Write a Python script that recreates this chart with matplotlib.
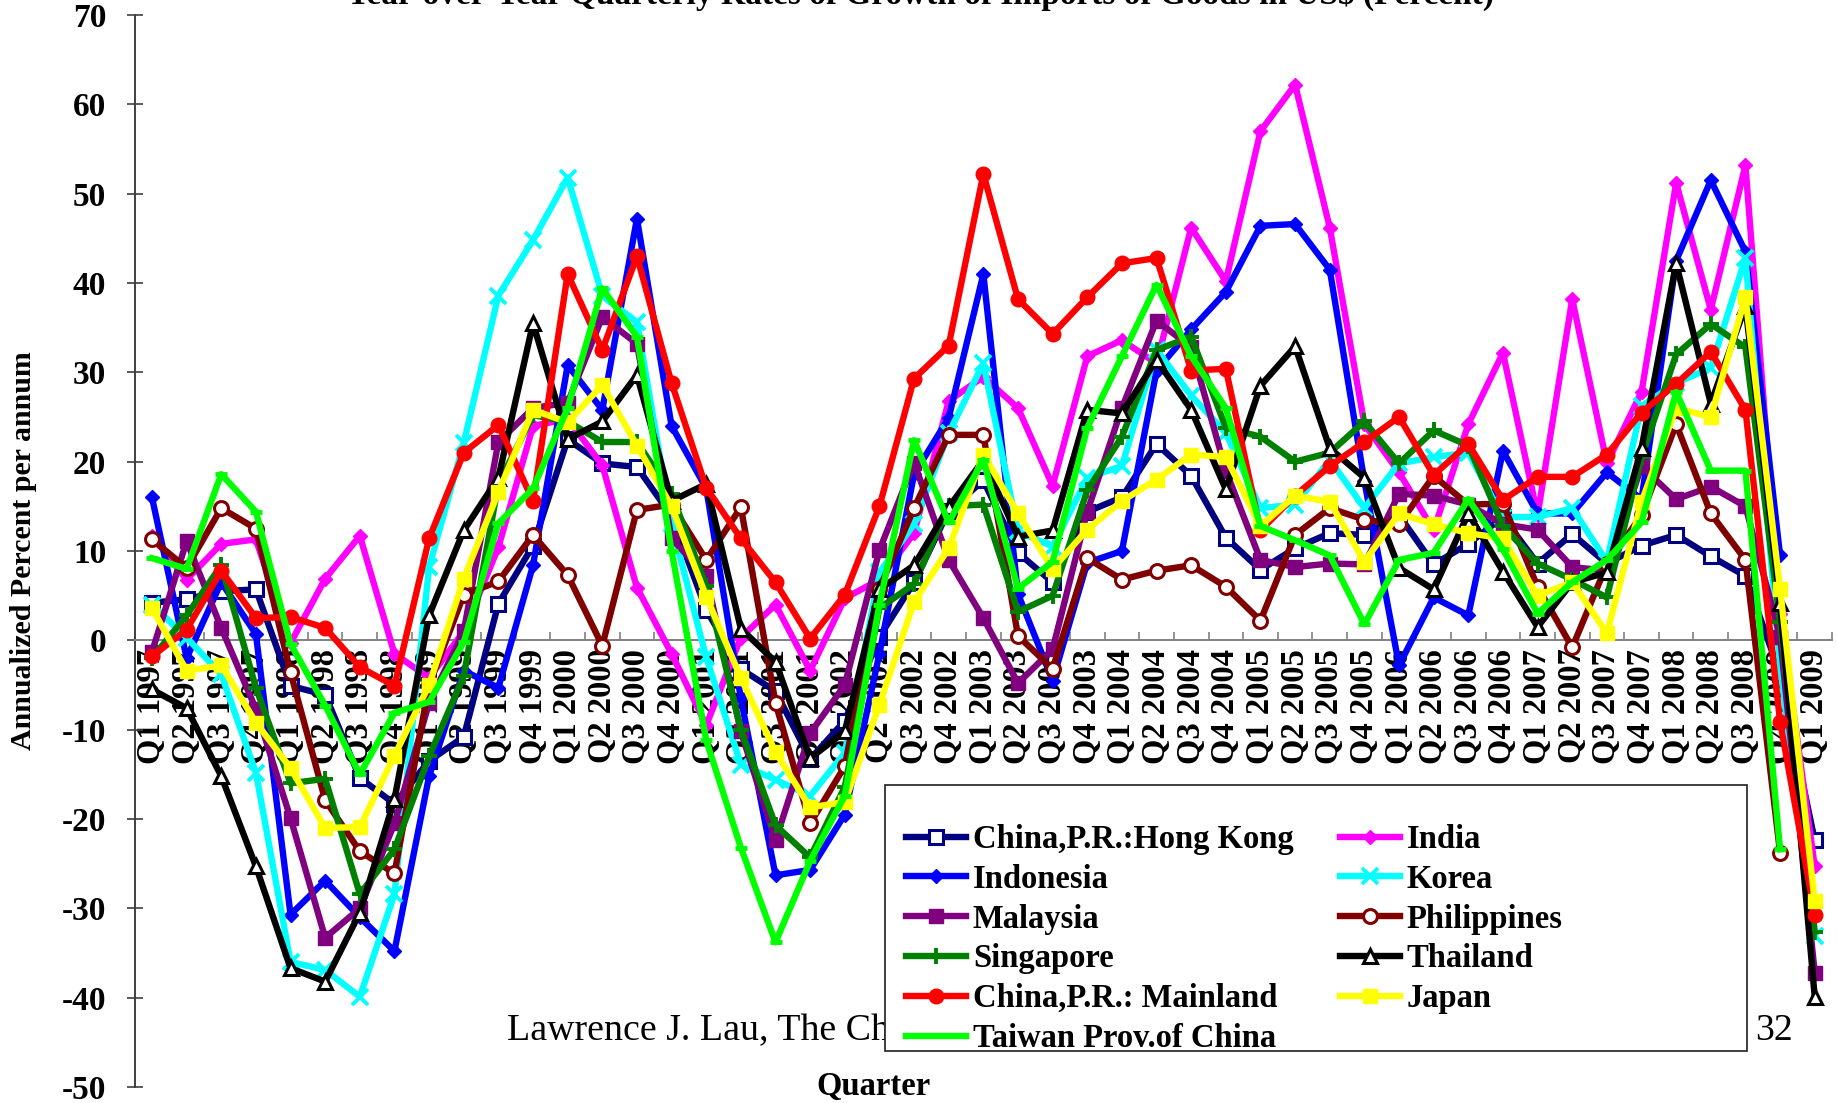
import numpy as np
import matplotlib
matplotlib.use("Agg")
import matplotlib.pyplot as plt
from matplotlib.patches import Rectangle

nan = np.nan

years = list(range(1997, 2009))
quarter_names = ["Q1", "Q2", "Q3", "Q4"]
quarters = [f"{q} {y}" for y in years for q in quarter_names] + ["Q1 2009"]

hong_kong = [4.2, 4.6, 5.5, 5.7, -5.1, -6.1, -15.4, -18.3, -13.5, -10.8, 4.1, 10.6,
             22.5, 19.8, 19.4, 13.9, 3.4, -3.2, -5.7, -13.3, -9.0, 0.4, 6.5, 14.5,
             17.9, 9.8, 6.5, 14.4, 16.0, 22.0, 18.4, 11.5, 7.9, 10.3, 12.0, 11.8,
             14.0, 8.5, 10.8, 13.8, 8.6, 11.9, 8.6, 10.6, 11.8, 9.4, 7.2, -3.8, -22.4]
india = [11.7, 6.8, 10.8, 11.3, -0.3, 6.9, 11.7, -1.5, -4.2, 1.0, 10.4, 24.0,
         24.8, 19.6, 5.9, -1.5, -9.5, 0.3, 4.0, -3.4, 4.7, 6.8, 12.0, 26.8,
         29.5, 26.0, 17.3, 31.8, 33.6, 31.0, 46.2, 40.2, 57.0, 62.2, 46.2, 24.2,
         18.8, 12.3, 24.2, 32.2, 14.0, 38.2, 19.8, 27.8, 51.2, 37.0, 53.2, 3.0, -25.3]
indonesia = [16.0, -2.0, 6.5, 0.7, -30.7, -26.9, -31.0, -34.8, -15.2, -3.4, -5.3, 8.4,
             30.8, 25.8, 47.2, 24.0, 17.0, -6.5, -26.3, -25.7, -19.5, -1.5, 18.6, 24.9,
             41.0, 5.2, -4.5, 8.7, 10.0, 30.2, 34.8, 39.0, 46.4, 46.6, 41.5, 17.8,
             -2.8, 4.8, 2.8, 21.2, 14.2, 14.2, 18.8, 15.8, 42.5, 51.5, 43.5, 9.5, nan]
korea = [4.0, 0.3, -3.8, -14.8, -36.0, -36.9, -39.9, -28.4, 8.2, 22.1, 38.6, 44.8,
         51.8, 38.6, 35.6, 13.0, -1.9, -13.9, -15.6, -17.4, -12.6, 7.6, 13.0, 23.2,
         31.0, 12.2, 10.5, 18.2, 19.5, 32.5, 27.4, 23.2, 14.8, 15.2, 20.2, 14.8,
         19.8, 20.5, 21.0, 13.8, 13.8, 14.8, 8.8, 26.2, 28.8, 30.5, 42.8, -3.0, -33.1]
malaysia = [-1.3, 11.1, 1.4, -7.7, -19.9, -33.3, -30.0, -20.5, -7.0, 1.0, 22.2, 26.0,
            26.6, 36.2, 33.2, 11.4, 7.2, -10.2, -22.4, -10.4, -5.0, 10.1, 19.9, 9.0,
            2.5, -4.8, -1.0, 14.4, 26.0, 35.8, 32.8, 19.0, 9.0, 8.2, 8.6, 8.5,
            16.4, 16.2, 15.2, 13.0, 12.4, 8.2, 7.8, 19.5, 15.8, 17.2, 15.0, 0.4, -37.2]
philippines = [11.3, 8.1, 14.8, 12.5, -3.6, -17.9, -23.6, -26.1, -5.0, 5.1, 6.6, 11.8,
               7.3, -0.6, 14.6, 15.2, 9.0, 14.9, -7.0, -20.5, -14.1, 5.8, 14.8, 23.0,
               23.0, 0.5, -3.2, 9.2, 6.8, 7.8, 8.4, 6.0, 2.2, 11.8, 14.8, 13.5,
               13.0, 18.4, 15.2, 15.3, 6.0, -0.8, 8.5, 14.0, 24.2, 14.2, 9.0, -23.8, nan]
singapore = [-2.0, 2.8, 8.4, -5.3, -16.0, -15.5, -28.4, -23.4, -13.0, -4.0, 17.5, 25.2,
             24.5, 22.2, 22.2, 16.4, 6.1, -10.0, -20.7, -24.3, -16.4, 3.6, 6.3, 15.0,
             15.2, 3.2, 5.0, 16.8, 22.8, 32.5, 34.0, 23.8, 22.8, 20.0, 21.0, 24.5,
             19.8, 23.5, 21.8, 12.8, 8.6, 6.8, 4.8, 20.5, 32.0, 35.4, 32.8, 2.0, -32.6]
thailand = [-5.5, -7.6, -15.2, -25.3, -36.7, -38.2, -30.5, -17.8, 2.8, 12.3, 18.2, 35.5,
            22.5, 24.5, 29.7, 15.6, 17.5, 1.3, -2.4, -13.2, -10.2, 5.7, 8.4, 14.9,
            20.2, 11.6, 12.3, 25.8, 25.4, 31.4, 25.8, 16.9, 28.5, 32.9, 21.5, 18.2,
            8.1, 5.7, 14.2, 7.7, 1.5, 6.5, 7.6, 21.5, 42.2, 26.5, 37.4, 4.2, -39.9]
mainland = [-1.8, 1.2, 7.8, 2.5, 2.6, 1.4, -3.0, -5.1, 11.4, 21.0, 24.1, 15.6,
            41.0, 32.5, 43.0, 28.8, 17.1, 11.4, 6.5, 0.2, 5.1, 15.0, 29.3, 33.0,
            52.2, 38.2, 34.3, 38.4, 42.2, 42.8, 30.2, 30.4, 12.3, 16.2, 19.5, 22.2,
            25.0, 18.5, 22.0, 15.7, 18.3, 18.3, 20.8, 25.5, 28.7, 32.3, 25.8, -9.1, -30.7]
japan = [3.6, -3.4, -2.8, -9.2, -14.3, -21.0, -20.9, -12.9, -5.0, 6.9, 16.6, 25.8,
         24.4, 28.6, 21.8, 15.0, 4.9, -4.2, -12.5, -18.7, -18.1, -7.2, 4.3, 10.3,
         20.8, 14.2, 8.0, 12.4, 15.6, 18.0, 20.8, 20.5, 12.8, 16.2, 15.5, 8.8,
         14.2, 13.0, 12.0, 11.4, 5.0, 6.5, 0.8, 15.5, 26.0, 25.0, 38.4, 5.8, -29.2]
taiwan = [9.2, 8.0, 18.6, 14.4, -0.4, -7.3, -15.0, -8.1, -6.9, -0.2, 13.1, 17.0,
          26.0, 39.4, 34.0, 10.0, -11.2, -23.2, -33.8, -24.7, -17.4, 4.0, 22.4, 13.2,
          20.2, 5.8, 8.8, 23.8, 31.8, 39.8, 31.8, 26.0, 12.8, 11.2, 9.5, 1.8,
          9.0, 9.8, 15.8, 10.2, 3.0, 6.5, 9.0, 13.2, 27.8, 19.0, 19.0, -23.4, nan]

SERIF = ["Liberation Serif", "DejaVu Serif"]

# (label, values, line colour, marker style), in drawing order
series = [
    ("China,P.R.:Hong Kong", hong_kong, "#000080",
     dict(marker="s", ms=10, mfc="white", mec="#000080", mew=2.2)),
    ("India", india, "#FF00FF",
     dict(marker="D", ms=7, mfc="#FF00FF", mec="#FF00FF")),
    ("Indonesia", indonesia, "#0000FF",
     dict(marker="D", ms=7, mfc="#0000FF", mec="#0000FF")),
    ("Korea", korea, "#00FFFF",
     dict(marker="x", ms=11, mec="#00FFFF", mew=2.8)),
    ("Malaysia", malaysia, "#800080",
     dict(marker="s", ms=10.5, mfc="#800080", mec="#800080")),
    ("Philippines", philippines, "#800000",
     dict(marker="o", ms=10, mfc="white", mec="#800000", mew=2.2)),
    ("Singapore", singapore, "#008000",
     dict(marker="+", ms=12, mec="#008000", mew=2.8)),
    ("Thailand", thailand, "#000000",
     dict(marker="^", ms=10.5, mfc="white", mec="#000000", mew=2.2)),
    ("China,P.R.: Mainland", mainland, "#FF0000",
     dict(marker="o", ms=10.5, mfc="#FF0000", mec="#FF0000")),
    ("Japan", japan, "#FFFF00",
     dict(marker="s", ms=10.5, mfc="#FFFF00", mec="#FFFF00")),
    ("Taiwan Prov.of China", taiwan, "#00FF00",
     dict(marker="_", ms=8, mec="#00FF00", mew=3.5)),
]

fig = plt.figure(figsize=(18.37, 11.03), dpi=100)
ax = fig.add_axes([0.0733, 0.0145, 0.9240, 0.9719])

x = np.arange(len(quarters))
handles = {}
for z, (label, vals, color, mstyle) in enumerate(series):
    h, = ax.plot(x, np.array(vals, dtype=float), color=color, lw=4.6,
                 solid_joinstyle="round", zorder=3 + z * 0.1, label=label,
                 clip_on=False, **mstyle)
    handles[label] = h

ax.set_xlim(-0.5, len(quarters) - 0.5)
ax.set_ylim(-50, 70)

# axes: y spine on the left, category axis crossing at zero
for side in ("top", "right"):
    ax.spines[side].set_visible(False)
ax.spines["bottom"].set_position(("data", 0))
ax.spines["bottom"].set_color("#808080")
ax.spines["bottom"].set_linewidth(1.4)
ax.spines["left"].set_color("#404040")
ax.spines["left"].set_linewidth(1.4)

ax.set_xticks(np.arange(-0.5, len(quarters), 1.0))
ax.set_xticklabels([])
ax.tick_params(axis="x", which="major", direction="in", length=6,
               color="#808080", width=1.2)
ax.set_xticks(x, minor=True)
ax.set_xticklabels(quarters, minor=True, rotation=90, fontfamily=SERIF,
                   fontweight="bold", fontsize=23.5)
ax.tick_params(axis="x", which="minor", length=0, pad=6)

ax.set_yticks(np.arange(-50, 71, 10))
ax.set_yticklabels([str(v) for v in range(-50, 71, 10)], fontfamily=SERIF,
                   fontweight="bold", fontsize=24)
ax.tick_params(axis="y", direction="inout", length=11, width=1.2,
               color="#404040", pad=15)

fig.text(24 / 1837, 1 - 551 / 1103, "Annualized Percent per annum", rotation=90,
         ha="center", va="center", fontfamily=SERIF, fontweight="bold", fontsize=21.5)
fig.text(873 / 1837, 1 - 1087 / 1103, "Quarter", ha="center", va="center",
         fontfamily=SERIF, fontweight="bold", fontsize=23.5)
fig.text(920 / 1837, 1 - 4 / 1103,
         "Year-over-Year Quarterly Rates of Growth of Imports of Goods in US$ (Percent)",
         ha="center", va="baseline", fontfamily=SERIF, fontweight="bold", fontsize=24)

# slide footer, partly covered by the legend box
ax.text(507 / 1837, 1 - 1040 / 1103,
        "Lawrence J. Lau, The Chinese University of Hong Kong",
        transform=fig.transFigure, ha="left", va="baseline", fontfamily=SERIF,
        fontsize=27.3, zorder=1, clip_on=False)
ax.text(1755 / 1837, 1 - 1040 / 1103, "32", transform=fig.transFigure,
        ha="left", va="baseline", fontfamily=SERIF, fontsize=27.3, zorder=1,
        clip_on=False)

# legend box
box = Rectangle((885 / 1837, 1 - 1051 / 1103), 862 / 1837, 266 / 1103,
                transform=fig.transFigure, facecolor="white", edgecolor="#303030",
                linewidth=1.3, zorder=9, clip_on=False)
ax.add_patch(box)

legend_order = ["China,P.R.:Hong Kong", "Indonesia", "Malaysia", "Singapore",
                "China,P.R.: Mainland", "Taiwan Prov.of China",
                "India", "Korea", "Philippines", "Thailand", "Japan"]
leg = ax.legend([handles[k] for k in legend_order], legend_order, ncol=2,
                loc="upper left", bbox_to_anchor=(906 / 1837, 1 - 824 / 1103),
                bbox_transform=fig.transFigure, borderaxespad=0, frameon=False,
                prop=dict(family=SERIF, weight="bold", size=23.5),
                handlelength=1.85, handletextpad=0.2, labelspacing=0.27,
                columnspacing=1.42, borderpad=0)
leg.set_zorder(10)

fig.savefig("out.png", dpi=100)
